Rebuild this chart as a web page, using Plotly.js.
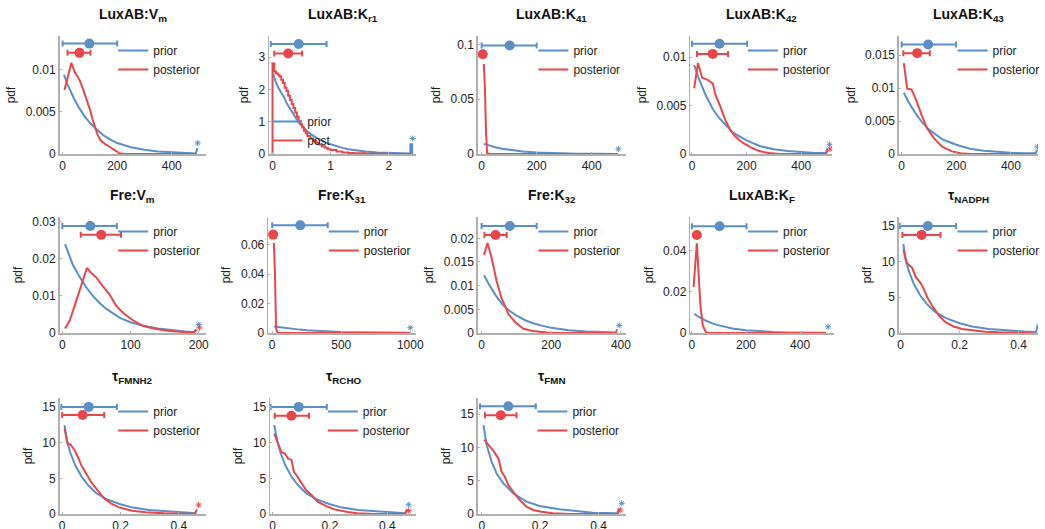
<!DOCTYPE html>
<html><head><meta charset="utf-8">
<script src="https://cdn.plot.ly/plotly-3.0.1.min.js"></script>
<style>html,body{margin:0;padding:0;background:#fff}#chart{width:1045px;height:529px}</style>
</head><body><div id="chart"></div>
<script>
// ---------------- DATA ----------------
const titles = ['LuxAB:V<sub>m</sub>','LuxAB:K<sub>r1</sub>','LuxAB:K<sub>41</sub>','LuxAB:K<sub>42</sub>','LuxAB:K<sub>43</sub>',
  'Fre:V<sub>m</sub>','Fre:K<sub>31</sub>','Fre:K<sub>32</sub>','LuxAB:K<sub>F</sub>','τ<sub>NADPH</sub>',
  'τ<sub>FMNH2</sub>','τ<sub>RCHO</sub>','τ<sub>FMN</sub>'];
const priorNames = ['prior','prior','prior','prior','prior','prior','prior','prior','prior','prior','prior','prior','prior'];
const postNames = ['posterior','post','posterior','posterior','posterior','posterior','posterior','posterior','posterior','posterior','posterior','posterior','posterior'];

// LuxAB:Vm
const vmPriorX = [5,20,40,60,80,100,125,150,175,200,250,300,350,400,450,488,494];
const vmPriorY = [0.0094,0.0081,0.0067,0.0055,0.0045,0.0037,0.0029,0.0022,0.0017,0.0013,0.0008,0.0005,0.0003,0.0002,0.0001,0.00005,0.0007];
const vmPostX = [7,20,32,45,62,75,88,100,110,120,128,140,159,175,189,207,230,300,400,490];
const vmPostY = [0.0076,0.0093,0.0108,0.0097,0.0088,0.0077,0.0065,0.0053,0.0041,0.0031,0.0023,0.0016,0.0011,0.0008,0.0005,0.0001,0,0,0,0];
// LuxAB:Kr1 (prior smooth, posterior histogram steps)
const kr1PriorX = [0.01,0.05,0.1,0.15,0.2,0.25,0.3,0.35,0.4,0.45,0.5,0.6,0.7,0.8,0.9,1.0,1.1,1.2,1.3,1.4,1.6,1.8,2.0,2.2,2.37,2.37,2.40,2.40];
const kr1PriorY = [2.5,2.25,2.05,1.9,1.75,1.55,1.4,1.25,1.1,0.98,0.88,0.7,0.56,0.45,0.36,0.3,0.24,0.19,0.15,0.12,0.08,0.05,0.03,0.02,0.015,0.3,0.3,0];
const kr1PostX = [0,0,0.03,0.06,0.09,0.12,0.15,0.18,0.21,0.24,0.27,0.30,0.33,0.36,0.39,0.42,0.45,0.48,0.51,0.54,0.57,0.60,0.65,0.70,0.75,0.80,0.85,0.90,0.95,1.0,1.1,1.2,1.3,1.4,1.6,1.8,2.0,2.38];
const kr1PostY = [0,2.8,2.55,2.5,2.45,2.4,2.3,2.2,2.05,1.95,1.8,1.67,1.55,1.42,1.28,1.15,1.02,0.92,0.82,0.72,0.64,0.56,0.48,0.41,0.35,0.29,0.24,0.19,0.15,0.12,0.08,0.05,0.03,0.02,0.01,0.005,0,0];
// LuxAB:K41
const k41PriorX = [8,25,50,75,100,150,200,250,300,350,400,450,495];
const k41PriorY = [0.0092,0.0078,0.0061,0.0047,0.0037,0.0022,0.0013,0.0008,0.0005,0.0003,0.0002,0.0001,0.0001];
const k41PostX = [8,12,16,20,30,100,200,300,400,495];
const k41PostY = [0.082,0.06,0.02,0.0008,0,0,0,0,0,0];
// LuxAB:K42
const k42PriorX = [8,25,50,75,100,150,200,250,300,350,400,450,490,496];
const k42PriorY = [0.0092,0.0078,0.0061,0.0047,0.0037,0.0022,0.0014,0.0008,0.0005,0.0003,0.0002,0.0001,0.0001,0.0006];
const k42PostX = [8,22,37,55,76,86,104,122,140,155,184,214,245,281,320,400,490,497];
const k42PostY = [0.0068,0.0094,0.0079,0.0077,0.0073,0.0061,0.0049,0.0035,0.0025,0.0019,0.0012,0.0007,0.0003,0.0001,0,0,0,0.0004];
// LuxAB:K43
const k43PriorX = [8,25,50,75,100,150,200,250,300,350,400,450,490,496];
const k43PriorY = [0.0093,0.0079,0.0062,0.0048,0.0037,0.0022,0.0014,0.0008,0.0005,0.0003,0.0002,0.0001,0.0001,0.0006];
const k43PostX = [8,20,36,53,73,93,118,148,184,215,250,300,400,490];
const k43PostY = [0.0138,0.0099,0.0098,0.0082,0.0059,0.0039,0.0024,0.0011,0.0004,0.0001,0,0,0,0];
// Fre:Vm
const fvmPriorX = [4,15,25,35,45,55,65,75,85,100,120,140,160,180,193,196];
const fvmPriorY = [0.0239,0.0185,0.0152,0.0123,0.0099,0.0080,0.0064,0.0051,0.0040,0.0029,0.0019,0.0012,0.0007,0.0004,0.0002,0.0010];
const fvmPostX = [4,11,18,28,36,42,50,59,69,79,91,103,117,132,151,176,193,197];
const fvmPostY = [0.0012,0.0034,0.0073,0.0131,0.0175,0.0162,0.0149,0.0127,0.0104,0.0073,0.0051,0.0035,0.002,0.0013,0.0007,0.0003,0.0002,0.0008];
// Fre:K31
const k31PriorX = [14,50,100,150,200,250,300,400,500,600,700,800,900,990];
const k31PriorY = [0.0045,0.0040,0.0034,0.0028,0.0023,0.0019,0.0016,0.0011,0.0007,0.0005,0.0003,0.0002,0.00015,0.0001];
const k31PostX = [12,20,28,40,100,500,1000];
const k31PostY = [0.0613,0.04,0.003,0,0,0,0];
// Fre:K32
const k32PriorX = [7,20,40,60,80,100,125,150,175,200,250,300,350,385,390];
const k32PriorY = [0.0122,0.0104,0.0080,0.0060,0.0047,0.0037,0.0027,0.0020,0.0015,0.0011,0.0006,0.0003,0.0002,0.0001,0.0008];
const k32PostX = [7,17,29,43,57,77,96,120,148,177,200,300,390];
const k32PostY = [0.0165,0.019,0.0158,0.011,0.0074,0.004,0.0023,0.0009,0.0004,0.0001,0,0,0];
// LuxAB:KF
const kfPriorX = [9,25,50,75,100,150,200,250,300,350,400,450,495];
const kfPriorY = [0.0093,0.0078,0.0061,0.0047,0.0037,0.0022,0.0014,0.0008,0.0005,0.0003,0.0002,0.0001,0.0001];
const kfPostX = [6,12,18,24,31,40,51,60,100,200,300,400,495];
const kfPostY = [0.0224,0.034,0.0437,0.03,0.014,0.0037,0.0005,0,0,0,0,0,0];
// tau NADPH
const tnPriorX = [0.009,0.017,0.028,0.045,0.067,0.09,0.118,0.152,0.197,0.242,0.298,0.354,0.42,0.46,0.465];
const tnPriorY = [12.4,10.2,8.6,6.8,5.2,4.0,2.9,2.1,1.4,0.9,0.55,0.37,0.2,0.15,1.2];
const tnPostX = [0.009,0.02,0.028,0.039,0.05,0.067,0.079,0.09,0.107,0.13,0.152,0.18,0.208,0.242,0.287,0.331,0.4,0.45];
const tnPostY = [11.7,9.8,9.5,9.1,7.9,7.0,6.1,5.0,3.8,2.4,1.5,0.9,0.55,0.37,0.18,0.1,0.03,0];
// tau FMNH2
const tfhPriorX = [0.008,0.017,0.028,0.045,0.067,0.09,0.118,0.152,0.197,0.242,0.298,0.354,0.42,0.46];
const tfhPriorY = [12.5,10.2,8.6,6.8,5.2,4.0,2.9,2.1,1.4,0.9,0.55,0.37,0.2,0.12];
const tfhPostX = [0.008,0.019,0.028,0.042,0.053,0.065,0.082,0.099,0.122,0.144,0.167,0.195,0.24,0.286,0.35,0.42,0.455,0.462];
const tfhPostY = [12.0,9.8,9.8,9.0,8.1,6.9,5.7,4.5,3.3,2.2,1.5,0.93,0.47,0.23,0.1,0,0,0.65];
// tau RCHO
const trPriorX = [0.006,0.017,0.028,0.045,0.067,0.09,0.118,0.152,0.197,0.242,0.298,0.354,0.42,0.462,0.468];
const trPriorY = [12.5,10.2,8.6,6.8,5.2,4.0,2.9,2.1,1.4,0.9,0.55,0.37,0.2,0.12,0.65];
const trPostX = [0.006,0.02,0.031,0.043,0.054,0.066,0.075,0.086,0.1,0.118,0.135,0.158,0.187,0.216,0.262,0.296,0.35,0.46,0.468];
const trPostY = [11.3,9.7,8.7,8.5,7.8,7.6,5.9,5.3,4.4,3.3,2.7,1.7,1.1,0.65,0.28,0.1,0,0,0.4];
// tau FMN
const tfPriorX = [0.006,0.017,0.034,0.051,0.074,0.108,0.153,0.198,0.266,0.323,0.38,0.465,0.47];
const tfPriorY = [13.35,10.35,7.85,6.1,4.6,3.1,1.85,1.2,0.7,0.4,0.2,0.1,0.85];
const tfPostX = [0.008,0.028,0.04,0.057,0.068,0.079,0.091,0.108,0.13,0.153,0.176,0.204,0.244,0.3,0.465,0.47];
const tfPostY = [11.2,10.1,9.5,8.35,6.35,5.6,4.35,3.35,2.1,1.1,0.6,0.35,0.1,0,0,0.5];

// summary (mean & interval) markers per panel
const priorMean = [98,0.45,102,101,97,41,203,81,102,0.092,0.091,0.091,0.091];
const priorLo   = [0,-0.03,0,0,0,0,0,0,0,-0.003,-0.003,-0.006,-0.006];
const priorHi   = [200,0.93,200,202,199,80,402,158,202,0.188,0.1875,0.189,0.185];
const priorBarY = [0.0131,3.4,0.099,0.0114,0.0166,0.0288,0.0733,0.0226,0.052,14.95,15.05,15.05,16.2];
const postMean  = [62,0.27,4,76,57,57,7,40,18,0.071,0.07,0.066,0.065];
const postLo    = [18,0.03,4,18,6,27,7,8,18,0.006,0,0.008,0.011];
const postHi    = [102,0.51,4,132,103,86,7,72,18,0.135,0.144,0.127,0.119];
const postBarY  = [0.012,3.11,0.091,0.01035,0.0153,0.0264,0.067,0.0207,0.0477,13.7,13.9,13.8,14.85];

// upper-bound mass markers (*)
const priorStarX = [495,2.41,497,504,497,200,1000,395,504,null,null,0.474,0.479];
const priorStarY = [0.0013,0.48,0.0045,0.00097,0.0011,0.0023,0.0036,0.0016,0.003,null,null,1.3,1.6];
const postStarX  = [null,null,null,505,null,201,null,null,null,null,0.468,0.474,0.474];
const postStarY  = [null,null,null,0.0005,null,0.0014,null,null,null,null,1.26,0.47,0.6];

// tick labels
const xTickVals = [[0,200,400],[0,1,2],[0,200,400],[0,200,400],[0,200,400],[0,100,200],[0,500,1000],[0,200,400],[0,200,400],[0,0.2,0.4],[0,0.2,0.4],[0,0.2,0.4],[0,0.2,0.4]];
const xTickText = [['0','200','400'],['0','1','2'],['0','200','400'],['0','200','400'],['0','200','400'],['0','100','200'],['0','500','1000'],['0','200','400'],['0','200','400'],['0','0.2','0.4'],['0','0.2','0.4'],['0','0.2','0.4'],['0','0.2','0.4']];
const yTickVals = [[0,0.005,0.01],[0,1,2,3],[0,0.05,0.1],[0,0.005,0.01],[0,0.005,0.01,0.015],[0,0.01,0.02,0.03],[0,0.02,0.04,0.06],[0,0.005,0.01,0.015,0.02],[0,0.02,0.04],[0,5,10,15],[0,5,10,15],[0,5,10,15],[0,5,10,15]];
const yTickText = [['0','0.005','0.01'],['0','1','2','3'],['0','0.05','0.1'],['0','0.005','0.01'],['0','0.005','0.01','0.015'],['0','0.01','0.02','0.03'],['0','0.02','0.04','0.06'],['0','0.005','0.01','0.015','0.02'],['0','0.02','0.04'],['0','5','10','15'],['0','5','10','15'],['0','5','10','15'],['0','5','10','15']];

// ---------------- LAYOUT / DRAW ----------------
const W = 1045, H = 529;
const BLUE = '#5b8fc6', RED = '#e8464b', AX = '#b0b0b0';
const FONT = 'Liberation Sans, Arial, Helvetica, sans-serif';
const curves = [
  [vmPriorX,vmPriorY,vmPostX,vmPostY],[kr1PriorX,kr1PriorY,kr1PostX,kr1PostY],[k41PriorX,k41PriorY,k41PostX,k41PostY],
  [k42PriorX,k42PriorY,k42PostX,k42PostY],[k43PriorX,k43PriorY,k43PostX,k43PostY],[fvmPriorX,fvmPriorY,fvmPostX,fvmPostY],
  [k31PriorX,k31PriorY,k31PostX,k31PostY],[k32PriorX,k32PriorY,k32PostX,k32PostY],[kfPriorX,kfPriorY,kfPostX,kfPostY],
  [tnPriorX,tnPriorY,tnPostX,tnPostY],[tfhPriorX,tfhPriorY,tfhPostX,tfhPostY],[trPriorX,trPriorY,trPostX,trPostY],
  [tfPriorX,tfPriorY,tfPostX,tfPostY]];
// plot boxes in px [left,right,top,bottom]
const boxes = [[60,207,36,154],[271,419,36,154],[481,630,36,154],[695,838,36,154],[905,1045,36,154],
  [60,207,217,333],[270,419,217,333],[481,630,217,333],[695,840,217,333],[905,1045,217,333],
  [60,207,398,514],[272,419,398,514],[481,630,398,514]];
const xRanges = [[-11,524],[-0.057,2.47],[-14,524],[-6,514],[-10,499],[-4,210],[-29,1043],[-11,414],[-6,527],[-0.006,0.466],[-0.009,0.492],[-0.008,0.5],[-0.0136,0.493]];
const yRanges = [[0,0.014],[0,3.65],[0,0.1076],[0,0.0122],[0,0.0179],[0,0.0312],[0,0.079],[0,0.0245],[0,0.0565],[0,16.2],[0,16.3],[0,16.3],[0,17.45]];
// legend: line start x, first item centre y (px)
const legPos = [[119,50],[274,121],[542,50],[753,50],[964,50],[119,231],[331,231],[542,231],[753,231],[964,231],[119,411],[330,411],[541,411]];

const data = [];
const layout = {width:W, height:H, margin:{l:0,r:0,t:0,b:0}, paper_bgcolor:'#fff', plot_bgcolor:'rgba(0,0,0,0)',
  font:{family:FONT, size:12, color:'#222'}, showlegend:true, annotations:[]};

curves.forEach((c,i)=>{
  const n = i+1, sfx = n===1?'':String(n);
  const xa = 'x'+sfx, ya = 'y'+sfx, lg = 'legend'+sfx;
  const b = boxes[i];
  layout['xaxis'+sfx] = {domain:[b[0]/W, b[1]/W], range:xRanges[i], anchor:ya, showgrid:false, zeroline:false,
    showline:true, linecolor:AX, linewidth:1.5, ticks:'inside', ticklen:2, tickcolor:AX,
    tickvals:xTickVals[i], ticktext:xTickText[i], tickfont:{size:12,color:'#222'}, fixedrange:true};
  layout['yaxis'+sfx] = {domain:[1-b[3]/H, 1-b[2]/H], range:yRanges[i], anchor:xa, showgrid:false, zeroline:false,
    showline:true, linecolor:AX, linewidth:1.5, ticks:'inside', ticklen:2, tickcolor:AX,
    tickvals:yTickVals[i], ticktext:yTickText[i], tickfont:{size:12,color:'#222'},
    title:{text:'pdf', font:{size:12,color:'#222'}, standoff:7}, fixedrange:true};
  const lp = legPos[i];
  layout[lg] = {x:(lp[0]-5)/W, y:1-(lp[1]-14)/H, xanchor:'left', yanchor:'top', bgcolor:'rgba(0,0,0,0)',
    borderwidth:0, font:{size:12,color:'#222'}, tracegroupgap:0, itemwidth:30};
  const postShape = (i===1)?'hv':'linear';
  data.push({type:'scatter', mode:'lines', x:c[0], y:c[1], xaxis:xa, yaxis:ya, legend:lg, name:priorNames[i],
    line:{color:BLUE, width:2, shape:'linear'}, cliponaxis:false, hoverinfo:'skip'});
  data.push({type:'scatter', mode:'lines', x:c[2], y:c[3], xaxis:xa, yaxis:ya, legend:lg, name:postNames[i],
    line:{color:RED, width:2, shape:postShape}, cliponaxis:false, hoverinfo:'skip'});
  data.push({type:'scatter', mode:'markers', x:[priorMean[i]], y:[priorBarY[i]], xaxis:xa, yaxis:ya, showlegend:false,
    marker:{color:BLUE, size:10}, cliponaxis:false,
    error_x:{type:'data', symmetric:false, array:[priorHi[i]-priorMean[i]], arrayminus:[priorMean[i]-priorLo[i]], color:BLUE, thickness:2, width:3}});
  data.push({type:'scatter', mode:'markers', x:[postMean[i]], y:[postBarY[i]], xaxis:xa, yaxis:ya, showlegend:false,
    marker:{color:RED, size:10}, cliponaxis:false,
    error_x:{type:'data', symmetric:false, array:[postHi[i]-postMean[i]], arrayminus:[postMean[i]-postLo[i]], color:RED, thickness:2, width:3}});
  if(priorStarX[i]!==null) data.push({type:'scatter', mode:'markers', x:[priorStarX[i]], y:[priorStarY[i]], xaxis:xa, yaxis:ya,
    showlegend:false, cliponaxis:true, marker:{symbol:'asterisk-open', size:5, color:BLUE, line:{color:BLUE, width:1}}});
  if(postStarX[i]!==null) data.push({type:'scatter', mode:'markers', x:[postStarX[i]], y:[postStarY[i]], xaxis:xa, yaxis:ya,
    showlegend:false, cliponaxis:true, marker:{symbol:'asterisk-open', size:5, color:RED, line:{color:RED, width:1}}});
  layout.annotations.push({text:'<b>'+titles[i]+'</b>', xref:'paper', yref:'paper',
    x:((b[0]+b[1])/2)/W, y:1-(b[2]-21)/H, xanchor:'center', yanchor:'middle', showarrow:false,
    font:{size:14, color:'#111', family:FONT}});
});

Plotly.newPlot('chart', data, layout, {displayModeBar:false, staticPlot:true});
</script></body></html>
